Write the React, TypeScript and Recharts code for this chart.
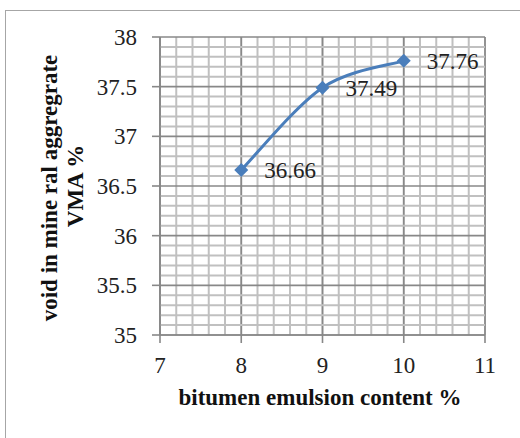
import React from "react";
import {
    LineChart,
    Line,
    XAxis,
    YAxis,
    CartesianGrid,
    ReferenceLine,
    LabelList,
} from "recharts";

// bitumen emulsion content (%) vs VMA (%)
const contents = [8, 9, 10];
const vma = [36.66, 37.49, 37.76];

const xTicks = [7, 8, 9, 10, 11];
const yTicks = [35, 35.5, 36, 36.5, 37, 37.5, 38];
const xMinorTicks = [7, 7.2, 7.4, 7.6, 7.8, 8, 8.2, 8.4, 8.6, 8.8, 9, 9.2, 9.4, 9.6, 9.8, 10, 10.2, 10.4, 10.6, 10.8, 11];
const yMinorTicks = [35.1, 35.2, 35.3, 35.4, 35.6, 35.7, 35.8, 35.9, 36.1, 36.2, 36.3, 36.4, 36.6, 36.7, 36.8, 36.9, 37.1, 37.2, 37.3, 37.4, 37.6, 37.7, 37.8, 37.9];

const data = contents.map((c, i) => ({ content: c, vma: vma[i] }));

const FONT = "'Liberation Serif', 'Times New Roman', serif";
const BLUE = "#4A7EBB";
const textStyle = { fontFamily: FONT, fontSize: 23 };

// excel-like smoothed line (catmull-rom through the points)
const smoothCurve = (context: any) => {
    let pts: number[][] = [];
    return {
        areaStart() {},
        areaEnd() {},
        lineStart() {
            pts = [];
        },
        lineEnd() {
            const n = pts.length;
            if (!n) return;
            context.moveTo(pts[0][0], pts[0][1]);
            for (let i = 0; i < n - 1; i++) {
                const p1 = pts[i];
                const p2 = pts[i + 1];
                const p0 = pts[i - 1] || p1;
                const p3 = pts[i + 2] || p2;
                context.bezierCurveTo(
                    p1[0] + (p2[0] - p0[0]) / 6,
                    p1[1] + (p2[1] - p0[1]) / 6,
                    p2[0] - (p3[0] - p1[0]) / 6,
                    p2[1] - (p3[1] - p1[1]) / 6,
                    p2[0],
                    p2[1]
                );
            }
        },
        point(x: number, y: number) {
            pts.push([x, y]);
        },
    };
};

const Diamond = (props: any) => {
    const { cx, cy } = props;
    if (cx == null || cy == null) return null;
    const r = 7;
    return (
        <polygon
            points={`${cx},${cy - r} ${cx + r},${cy} ${cx},${cy + r} ${cx - r},${cy}`}
            fill={BLUE}
        />
    );
};

const PointLabel = (props: any) => {
    const { x, y, value } = props;
    return (
        <text x={x + 23} y={y} dy="0.35em" style={textStyle} fill="#222">
            {value}
        </text>
    );
};

const XTick = (props: any) => {
    const { x, y, payload } = props;
    return (
        <text x={x} y={y} dy="0.71em" textAnchor="middle" style={textStyle} fill="#222">
            {payload.value}
        </text>
    );
};

const YTick = (props: any) => {
    const { x, y, payload } = props;
    return (
        <text x={x} y={y} dy="0.35em" textAnchor="end" style={textStyle} fill="#222">
            {payload.value}
        </text>
    );
};

export default function App() {
    return (
        <div style={{ position: "absolute", left: 0, top: 0, width: 520, height: 438, background: "#fff", overflow: "hidden", fontFamily: FONT }}>
            <div style={{ position: "absolute", left: 5, top: 10, width: 540, height: 460, border: "1.5px solid #a6a6a6" }} />
            <LineChart
                width={520}
                height={438}
                data={data}
                margin={{ top: 37, right: 35, bottom: 63, left: 0 }}
                style={{ position: "absolute", left: 0, top: 0 }}
            >
                <XAxis xAxisId="minor" type="number" dataKey="content" domain={[7, 11]} ticks={xMinorTicks} interval={0} hide />
                <CartesianGrid xAxisId="minor" horizontal={false} stroke="#c0c0c0" strokeWidth={2} />
                {yMinorTicks.map((v) => (
                    <ReferenceLine key={v} y={v} stroke="#c0c0c0" strokeWidth={2} />
                ))}
                <CartesianGrid stroke="#888888" strokeWidth={1.6} />
                <XAxis
                    type="number"
                    dataKey="content"
                    domain={[7, 11]}
                    ticks={xTicks}
                    interval={0}
                    height={40}
                    tickSize={8}
                    tickMargin={14}
                    axisLine={{ stroke: "#888888", strokeWidth: 1.6 }}
                    tickLine={{ stroke: "#888888", strokeWidth: 1.6 }}
                    tick={<XTick />}
                />
                <YAxis
                    type="number"
                    domain={[35, 38]}
                    ticks={yTicks}
                    interval={0}
                    width={160}
                    tickSize={8}
                    tickMargin={15}
                    axisLine={{ stroke: "#888888", strokeWidth: 1.6 }}
                    tickLine={{ stroke: "#888888", strokeWidth: 1.6 }}
                    tick={<YTick />}
                />
                <Line
                    type={smoothCurve as any}
                    dataKey="vma"
                    stroke={BLUE}
                    strokeWidth={3}
                    dot={<Diamond />}
                    activeDot={false}
                    isAnimationActive={false}
                >
                    <LabelList dataKey="vma" content={<PointLabel />} />
                </Line>
            </LineChart>
            <svg width={520} height={438} style={{ position: "absolute", left: 0, top: 0, pointerEvents: "none" }}>
                <text x={320} y={405} textAnchor="middle" style={{ ...textStyle, fontWeight: "bold" }} fill="#111">
                    bitumen emulsion content %
                </text>
                <text transform="translate(57,188) rotate(-90)" textAnchor="middle" style={{ ...textStyle, fontWeight: "bold" }} fill="#111">
                    void in mine ral aggregrate
                </text>
                <text transform="translate(83,186) rotate(-90)" textAnchor="middle" style={{ ...textStyle, fontWeight: "bold" }} fill="#111">
                    VMA  %
                </text>
            </svg>
        </div>
    );
}
